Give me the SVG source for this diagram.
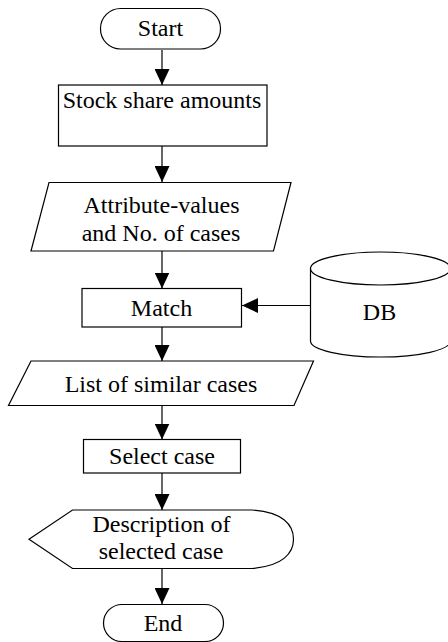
<svg xmlns="http://www.w3.org/2000/svg" width="448" height="642" viewBox="0 0 448 642">
<defs>
<style>
.s{fill:#fff;stroke:#000;stroke-width:1.2}
.t{font-size:24px;fill:#000;text-anchor:middle}
.c{stroke:#000;stroke-width:1.2;fill:none;marker-end:url(#ah)}
</style>
<marker id="ah" markerUnits="userSpaceOnUse" markerWidth="16" markerHeight="15" refX="16" refY="7.5" orient="auto" viewBox="0 0 16 15">
<path d="M0,0 L16,7.5 L0,15 Z" fill="#000"/>
</marker>
</defs>
<g id="connectors">
<line class="c" x1="162" y1="50" x2="162" y2="85"/>
<line class="c" x1="162" y1="146" x2="162" y2="182"/>
<line class="c" x1="162" y1="251" x2="162" y2="288.5"/>
<line class="c" x1="310.5" y1="305.5" x2="242" y2="305.5"/>
<line class="c" x1="162" y1="327" x2="162" y2="361"/>
<line class="c" x1="162" y1="406" x2="162" y2="439.5"/>
<line class="c" x1="162" y1="473" x2="162" y2="510"/>
<line class="c" x1="162" y1="568.5" x2="162" y2="604"/>
</g>
<g font-family="'Liberation Serif', 'DejaVu Serif', serif">
<g id="start">
<rect class="s" x="100.5" y="8.5" width="120" height="40.5" rx="20" ry="20"/>
<text class="t" x="160.5" y="36">Start</text>
</g>
<g id="stock">
<rect class="s" x="58.5" y="85" width="208.5" height="61"/>
<text class="t" x="162" y="108">Stock share amounts</text>
</g>
<g id="attributes">
<polygon class="s" points="49,182.5 291,182.5 273.5,251 31,251"/>
<text class="t" x="161.5" y="213">Attribute-values</text>
<text class="t" x="161" y="240.5">and No. of cases</text>
</g>
<g id="match">
<rect class="s" x="82" y="288.5" width="159.5" height="38.5"/>
<text class="t" x="161.5" y="315.5">Match</text>
</g>
<g id="db">
<path class="s" d="M310.5,268 L310.5,341 A70,16 0 0 0 450.5,341 L450.5,268"/>
<ellipse class="s" cx="380.5" cy="268.5" rx="70" ry="16.5"/>
<text class="t" x="379.5" y="320">DB</text>
</g>
<g id="list">
<polygon class="s" points="31,361 313.5,361 294,405.5 8.5,405.5"/>
<text class="t" x="161" y="391.5">List of similar cases</text>
</g>
<g id="select">
<rect class="s" x="83.5" y="439.5" width="157" height="33.5"/>
<text class="t" x="162" y="464">Select case</text>
</g>
<g id="description">
<path class="s" d="M29,539.3 L72.5,510 L252,510 C283,512 293.5,525 293.5,539.3 C293.5,553 283,566 252,568.5 L72.5,568.5 Z"/>
<text class="t" x="161.5" y="531.5">Description of</text>
<text class="t" x="161" y="559">selected case</text>
</g>
<g id="end">
<rect class="s" x="103.5" y="604.5" width="120" height="37" rx="18.5" ry="18.5"/>
<text class="t" x="163" y="631">End</text>
</g>
</g>
</svg>
